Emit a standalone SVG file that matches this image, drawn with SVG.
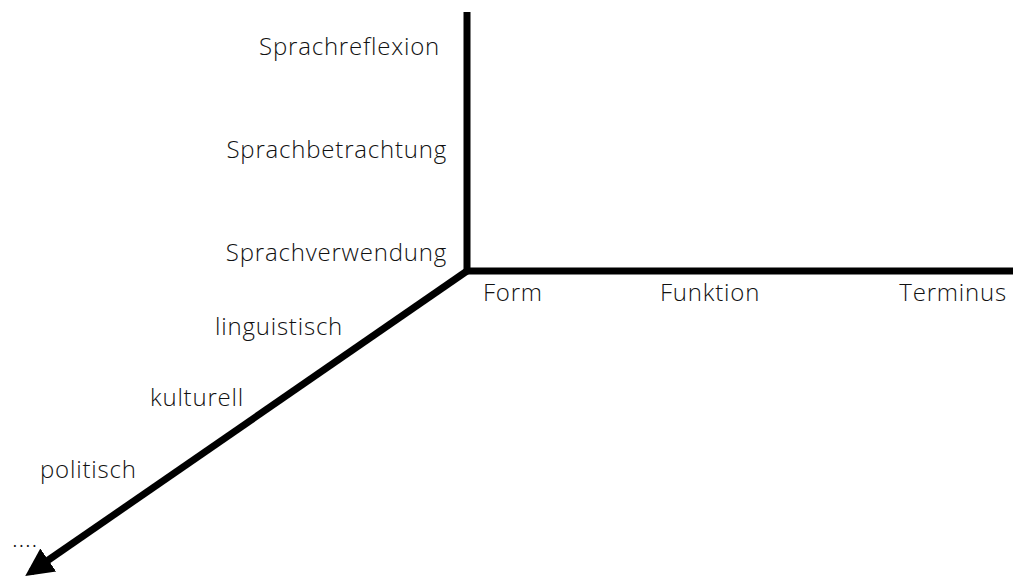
<svg xmlns="http://www.w3.org/2000/svg" width="1017" height="576" viewBox="0 0 1017 576">
<style>
.t{font-family:"Open Sans","Liberation Sans",sans-serif;font-weight:300;font-size:24px;letter-spacing:0.8px;fill:#111}
.ax{stroke:#000;stroke-width:7;fill:none}
</style>
<defs>
<marker id="ah" markerWidth="6" markerHeight="6" refX="3" refY="3" orient="auto" markerUnits="strokeWidth">
<path d="M0,1 L4,3 L0,5 Z" fill="#000"/>
</marker>
</defs>
<rect width="1017" height="576" fill="#fff"/>
<g id="connectors">
<path class="ax" d="M467,12 L467,271 L1013,271"/>
<path class="ax" d="M467,271 L31,572" marker-end="url(#ah)"/>
</g>
<g id="y-labels">
<text class="t" x="440" y="55" text-anchor="end">Sprachreflexion</text>
<text class="t" x="447" y="158" text-anchor="end">Sprachbetrachtung</text>
<text class="t" x="447" y="261" text-anchor="end">Sprachverwendung</text>
</g>
<g id="x-labels">
<text class="t" x="483" y="301">Form</text>
<text class="t" x="660" y="301">Funktion</text>
<text class="t" x="1007" y="301" text-anchor="end">Terminus</text>
</g>
<g id="z-labels">
<text class="t" x="215" y="335">linguistisch</text>
<text class="t" x="150" y="406">kulturell</text>
<text class="t" x="40" y="478">politisch</text>
<text class="t" x="12" y="547">....</text>
</g>
</svg>
